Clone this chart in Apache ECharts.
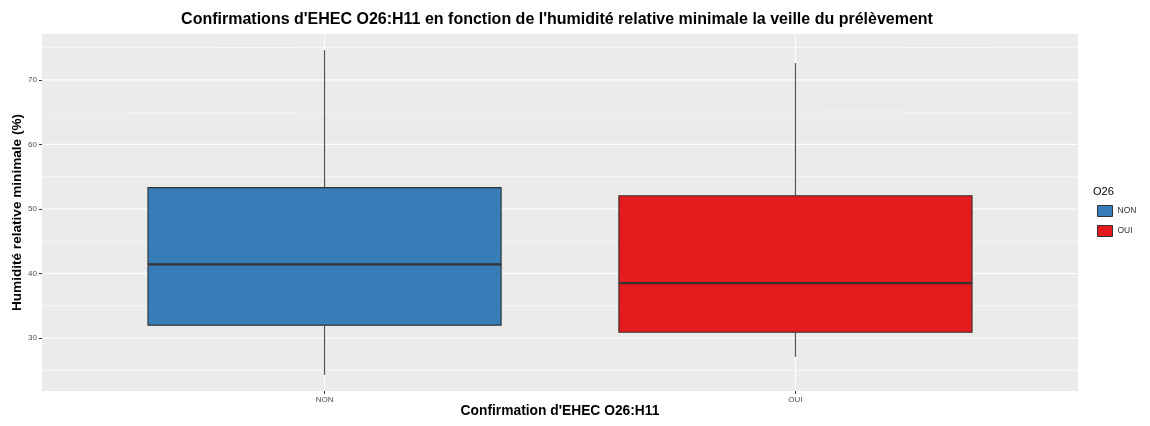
<!DOCTYPE html>
<html>
<head>
<meta charset="utf-8">
<script src="https://cdn.jsdelivr.net/npm/echarts@6/dist/echarts.min.js"></script>
<style>html,body{margin:0;padding:0;background:#fff}#c{width:1150px;height:426px}</style>
</head>
<body>
<div id="c"></div>
<script>
// ---- data ----
const categories = ['NON', 'OUI'];
const whiskerLow = [24.3, 27.1];
const q1 = [32.0, 30.9];
const median = [41.4, 38.5];
const q3 = [53.3, 52.05];
const whiskerHigh = [74.6, 72.6];
const colors = ['#377EB8', '#E41A1C'];
const yTicks = [30, 40, 50, 60, 70];
const yMinor = [25, 35, 45, 55, 65, 75];
const xPositions = [1, 2];

const chart = echarts.init(document.getElementById('c'), null, {renderer: 'canvas'});

// gridline data: [x, y, kind] kind 0 = major horizontal, 1 = minor horizontal, 2 = vertical major
const gridData = [];
yMinor.forEach(v => gridData.push([1, v, 1]));
yTicks.forEach(v => gridData.push([1, v, 0]));
xPositions.forEach(v => gridData.push([v, 50, 2]));

function renderGrid(params, api) {
  const cs = params.coordSys;
  const kind = api.value(2);
  if (kind === 2) {
    const p = api.coord([api.value(0), 50]);
    return {type: 'line', shape: {x1: p[0], y1: cs.y, x2: p[0], y2: cs.y + cs.height},
      style: {stroke: '#ffffff', lineWidth: 1.1}, silent: true};
  }
  const p = api.coord([1, api.value(1)]);
  return {type: 'line', shape: {x1: cs.x, y1: p[1], x2: cs.x + cs.width, y2: p[1]},
    style: {stroke: '#ffffff', lineWidth: kind === 0 ? 1.1 : 0.55}, silent: true};
}

function renderBox(params, api) {
  const x = api.value(0);
  const lo = api.coord([x, api.value(1)]);
  const b1 = api.coord([x, api.value(2)]);
  const md = api.coord([x, api.value(3)]);
  const b3 = api.coord([x, api.value(4)]);
  const hi = api.coord([x, api.value(5)]);
  const w = api.size([0.75, 0])[0];
  const color = api.visual('color');
  return {
    type: 'group',
    children: [
      {type: 'line', shape: {x1: lo[0], y1: lo[1], x2: b1[0], y2: b1[1]}, style: {stroke: '#555555', lineWidth: 1.2}},
      {type: 'line', shape: {x1: b3[0], y1: b3[1], x2: hi[0], y2: hi[1]}, style: {stroke: '#555555', lineWidth: 1.2}},
      {type: 'rect', shape: {x: lo[0] - w / 2, y: b3[1], width: w, height: b1[1] - b3[1]},
        style: {fill: color, stroke: '#333333', lineWidth: 1.1}},
      {type: 'line', shape: {x1: md[0] - w / 2, y1: md[1], x2: md[0] + w / 2, y2: md[1]},
        style: {stroke: '#333333', lineWidth: 2.2}}
    ]
  };
}

const series = [{
  type: 'custom', name: 'grid', renderItem: renderGrid, data: gridData, z: 1, silent: true,
  encode: {x: 0, y: 1}
}];
categories.forEach((c, i) => {
  series.push({
    type: 'custom', name: c, renderItem: renderBox, z: 5,
    itemStyle: {color: colors[i]},
    encode: {x: 0, y: [1, 2, 3, 4, 5]},
    data: [[xPositions[i], whiskerLow[i], q1[i], median[i], q3[i], whiskerHigh[i]]]
  });
});

const FF = 'Liberation Sans, Arial, sans-serif';
chart.setOption({
  animation: false,
  backgroundColor: '#ffffff',
  title: [
    {text: "Confirmations d'EHEC O26:H11 en fonction de l'humidité relative minimale la veille du prélèvement",
      left: 557, top: 12, textAlign: 'center', padding: 0,
      textStyle: {fontFamily: FF, fontSize: 16, fontWeight: 'bold', color: '#000'}},
    {text: 'O26', left: 1093, top: 186, padding: 0,
      textStyle: {fontFamily: FF, fontSize: 11, fontWeight: 'normal', color: '#000'}}
  ],
  legend: {
    data: categories, orient: 'vertical', left: 1097, top: 205, itemGap: 8, padding: 0,
    itemWidth: 15, itemHeight: 11, icon: 'rect',
    itemStyle: {borderColor: '#333', borderWidth: 1},
    textStyle: {fontFamily: FF, fontSize: 8.5, color: '#333'}
  },
  grid: {left: 42, right: 72, top: 34, bottom: 35, show: true, backgroundColor: '#EBEBEB', borderWidth: 0,
    containLabel: false, outerBoundsMode: 'none'},
  xAxis: {
    type: 'value', min: 0.4, max: 2.6,
    name: "Confirmation d'EHEC O26:H11", nameLocation: 'middle', nameGap: 13, nameMoveOverlap: false,
    nameTextStyle: {fontFamily: FF, fontSize: 13.8, fontWeight: 'bold', color: '#000'},
    axisLine: {show: false},
    splitLine: {show: false},
    axisTick: {show: true, customValues: xPositions, length: 3, lineStyle: {color: '#333'}},
    axisLabel: {customValues: xPositions, margin: 5, fontSize: 8, color: '#4D4D4D', fontFamily: FF,
      formatter: v => categories[xPositions.indexOf(Math.round(v))] || ''}
  },
  yAxis: {
    type: 'value', min: 21.8, max: 77.1,
    name: 'Humidité relative minimale (%)', nameLocation: 'middle', nameGap: 18, nameRotate: 90,
    nameMoveOverlap: false,
    nameTextStyle: {fontFamily: FF, fontSize: 13.6, fontWeight: 'bold', color: '#000'},
    axisLine: {show: false},
    splitLine: {show: false},
    axisTick: {show: true, customValues: yTicks, length: 3, lineStyle: {color: '#333'}},
    axisLabel: {customValues: yTicks, margin: 5, fontSize: 8, color: '#4D4D4D', fontFamily: FF}
  },
  series: series
});
</script>
</body>
</html>
